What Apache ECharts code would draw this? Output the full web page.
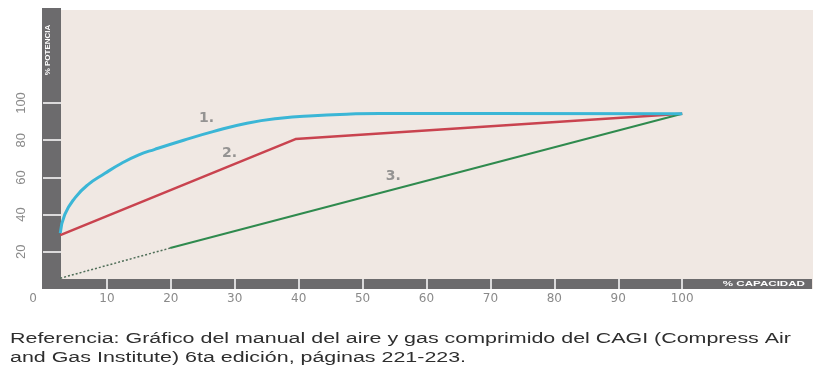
<!DOCTYPE html>
<html>
<head>
<meta charset="utf-8">
<script src="https://cdn.jsdelivr.net/npm/echarts@6/dist/echarts.min.js"></script>
<style>html,body{margin:0;padding:0;background:#fff;}#c{width:825px;height:365px;}</style>
</head>
<body>
<div id="c"></div>
<script>
// Data
var xTickLabels = [0, 10, 20, 30, 40, 50, 60, 70, 80, 90, 100];
var xTickMarks = [10, 20, 30, 40, 50, 60, 70, 80, 90, 100];
var yTickLabels = [20, 40, 60, 80, 100];
var curve1 = [[2.7,30],[3.4,40],[5,49],[7,56],[9.7,62.2],[12.3,67.6],[14.9,72],[17.5,75.1],[22,80],[26.6,84.6],[31.9,89.1],[37.1,91.8],[42.3,93.2],[47.5,94],[52.7,94.4],[70,94.4],[100,94.2]];
var curve2 = [[2.7,29],[39.5,80.6],[100,94.2]];
var curve3Solid = [[19.9,22],[100,94.2]];
var curve3Dotted = [[2.7,5.8],[19.9,22]];
var curveNames = ['1.', '2.', '3.'];
var namePos = [[25.6,92],[29.2,73],[54.8,60.8]];
var xName = '% CAPACIDAD';
var yName = '% POTENCIA';
var caption = 'Referencia: Gráfico del manual del aire y gas comprimido del CAGI (Compress Air\nand Gas Institute) 6ta edición, páginas 221-223.';

var chart = echarts.init(document.getElementById('c'), null, {renderer: 'canvas'});
var labelColor = '#8a8a8a';
var fontFam = '"Liberation Sans", Arial, sans-serif';
var wideFam = '"DejaVu Sans", sans-serif';

chart.setOption({
  animation: false,
  grid: {left: 43, right: 15, top: 10, bottom: 76},
  xAxis: {
    type: 'value', min: 0, max: 120,
    axisLine: {show: false},
    splitLine: {show: false},
    axisTick: {show: true, customValues: xTickMarks, inside: true, length: 10, lineStyle: {color: '#ffffff', width: 1.5}},
    axisLabel: {
      customValues: xTickLabels, margin: 4, color: labelColor, fontSize: 12, fontFamily: wideFam,
      formatter: function (v) { return v === 0 ? '{z|0}' : String(v); },
      rich: {z: {padding: [0, 20, 0, 0], color: labelColor, fontSize: 12, fontFamily: wideFam}}
    }
  },
  yAxis: {
    type: 'value', min: 0, max: 150,
    axisLine: {show: false},
    splitLine: {show: false},
    axisTick: {show: true, customValues: yTickLabels, inside: true, length: 18, lineStyle: {color: '#ffffff', width: 1.5}},
    axisLabel: {customValues: yTickLabels, rotate: 90, margin: 15, color: labelColor, fontSize: 13, fontFamily: fontFam}
  },
  graphic: [
    {type: 'rect', z: -3, shape: {x: 43, y: 10, width: 770, height: 279}, style: {fill: '#f0e8e3'}},
    {type: 'rect', z: -2, shape: {x: 42, y: 8, width: 19, height: 281}, style: {fill: '#6c6b6d'}},
    {type: 'rect', z: -2, shape: {x: 42, y: 279, width: 770, height: 10}, style: {fill: '#6c6b6d'}},
    {type: 'text', z: 5, x: 48, y: 50, rotation: Math.PI / 2,
      style: {text: yName, fill: '#ffffff', font: 'bold 8px ' + fontFam, align: 'center', verticalAlign: 'middle'}},
    {type: 'text', z: 5, x: 805, y: 284, scaleX: 1.45,
      style: {text: xName, fill: '#ffffff', font: 'bold 8px ' + fontFam, align: 'right', verticalAlign: 'middle'}},
    {type: 'text', z: 5, x: 10, y: 330, scaleX: 1.53,
      style: {text: caption, fill: '#2e2e2e', font: '14px ' + fontFam, lineHeight: 19, align: 'left', verticalAlign: 'top'}}
  ],
  series: [
    {type: 'line', data: curve1, smooth: 0.5, showSymbol: false, lineStyle: {color: '#3bb6d6', width: 3}, z: 4},
    {type: 'line', data: curve2, showSymbol: false, lineStyle: {color: '#c9434f', width: 2.5}, z: 3},
    {type: 'line', data: curve3Solid, showSymbol: false, lineStyle: {color: '#2f8a4e', width: 2}, z: 3},
    {type: 'line', data: curve3Dotted, showSymbol: false, lineStyle: {color: '#4f6e58', width: 1.5, type: [2, 2]}, z: 3},
    {type: 'scatter', symbolSize: 0,
      data: namePos.map(function (p, i) { return {value: p, name: curveNames[i]}; }),
      label: {show: true, position: 'inside', formatter: '{b}', color: '#7d7d7d', fontSize: 14, fontWeight: 'bold', fontFamily: wideFam}}
  ]
});
</script>
</body>
</html>
